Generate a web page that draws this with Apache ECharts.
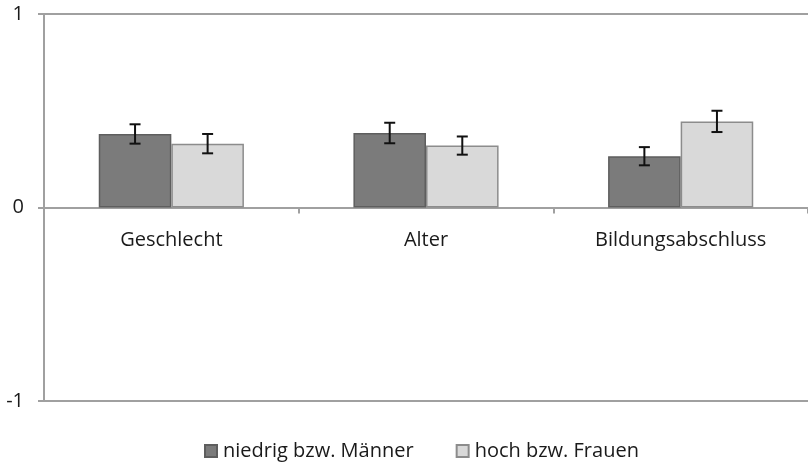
<!DOCTYPE html>
<html>
<head>
<meta charset="utf-8">
<script src="https://cdn.jsdelivr.net/npm/echarts@6/dist/echarts.min.js"></script>
<style>
  html, body { margin: 0; padding: 0; background: #fff; }
  #chart { width: 808px; height: 462px; }
</style>
</head>
<body>
<div id="chart"></div>
<script>
// Kategorien und Werte
const categories = ['Geschlecht', 'Alter', 'Bildungsabschluss'];
const seriesNames = ['niedrig bzw. Männer', 'hoch bzw. Frauen'];
const lowValues = [0.38, 0.385, 0.265];
const highValues = [0.33, 0.32, 0.445];
// Fehlerbalken (± halbe Spannweite)
const lowErrors = [0.05, 0.053, 0.047];
const highErrors = [0.05, 0.047, 0.055];
const yTicks = [-1, 0, 1];

const FONT = '"Open Sans", "Liberation Sans", sans-serif';
const FONT_SIZE = 20;
const TEXT_COLOR = '#1a1a1a';
const CAT_GAP = 0.43;

function errorSeries(values, errors, side) {
  return {
    type: 'custom',
    z: 10,
    silent: true,
    data: values.map((v, i) => [i, v - errors[i], v + errors[i]]),
    renderItem: function (params, api) {
      const band = api.size([1, 0])[0];
      const barW = band * (1 - CAT_GAP) / 2;
      const c = api.coord([api.value(0), 0]);
      const x = c[0] + side * barW / 2;
      const lo = api.coord([api.value(0), api.value(1)])[1];
      const hi = api.coord([api.value(0), api.value(2)])[1];
      const cap = 5.5;
      const style = { stroke: '#111', lineWidth: 2 };
      return {
        type: 'group',
        children: [
          { type: 'line', shape: { x1: x, y1: lo, x2: x, y2: hi }, style: style },
          { type: 'line', shape: { x1: x - cap, y1: hi, x2: x + cap, y2: hi }, style: style },
          { type: 'line', shape: { x1: x - cap, y1: lo, x2: x + cap, y2: lo }, style: style }
        ]
      };
    }
  };
}

// Kategorienbeschriftung direkt unter der Nulllinie
const categoryLabelSeries = {
  type: 'custom',
  silent: true,
  z: 5,
  data: categories.map((c, i) => [i, 0]),
  renderItem: function (params, api) {
    const p = api.coord([api.value(0), api.value(1)]);
    return {
      type: 'text',
      style: {
        x: p[0], y: p[1] + 33,
        text: categories[params.dataIndex],
        fill: TEXT_COLOR,
        font: FONT_SIZE + 'px ' + FONT,
        align: 'center',
        verticalAlign: 'middle'
      }
    };
  }
};

const chart = echarts.init(document.getElementById('chart'), null, { renderer: 'canvas' });
chart.setOption({
  animation: false,
  backgroundColor: '#ffffff',
  textStyle: { fontFamily: FONT },
  grid: { left: 44, right: -5, top: 14, bottom: 61, containLabel: false },
  legend: {
    bottom: -4,
    left: 199,
    itemWidth: 12,
    itemHeight: 12,
    itemGap: 42,
    icon: 'rect',
    data: seriesNames,
    textStyle: { fontFamily: FONT, fontSize: FONT_SIZE, color: TEXT_COLOR, padding: [0, 0, 0, 1] }
  },
  xAxis: {
    type: 'category',
    data: categories,
    axisLine: { onZero: true, lineStyle: { color: '#a0a0a0', width: 2 } },
    axisTick: { show: true, length: 6, alignWithLabel: false, lineStyle: { color: '#a0a0a0', width: 2 } },
    axisLabel: { show: false }
  },
  yAxis: {
    type: 'value',
    min: yTicks[0],
    max: yTicks[yTicks.length - 1],
    interval: 1,
    axisLine: { show: true, lineStyle: { color: '#a0a0a0', width: 2 } },
    axisTick: { show: true, length: 6, lineStyle: { color: '#a0a0a0', width: 2 } },
    splitLine: { show: true, lineStyle: { color: '#a0a0a0', width: 2 } },
    axisLabel: { color: TEXT_COLOR, fontSize: FONT_SIZE, fontFamily: FONT, margin: 20 }
  },
  series: [
    {
      name: seriesNames[0],
      type: 'bar',
      data: lowValues,
      barGap: '0%',
      barCategoryGap: (CAT_GAP * 100) + '%',
      itemStyle: { color: '#7b7b7b', borderColor: '#5e5e5e', borderWidth: 1.5 }
    },
    {
      name: seriesNames[1],
      type: 'bar',
      data: highValues,
      barGap: '0%',
      barCategoryGap: (CAT_GAP * 100) + '%',
      itemStyle: { color: '#d9d9d9', borderColor: '#8c8c8c', borderWidth: 1.5 }
    },
    errorSeries(lowValues, lowErrors, -1),
    errorSeries(highValues, highErrors, 1),
    categoryLabelSeries
  ]
});
</script>
</body>
</html>
